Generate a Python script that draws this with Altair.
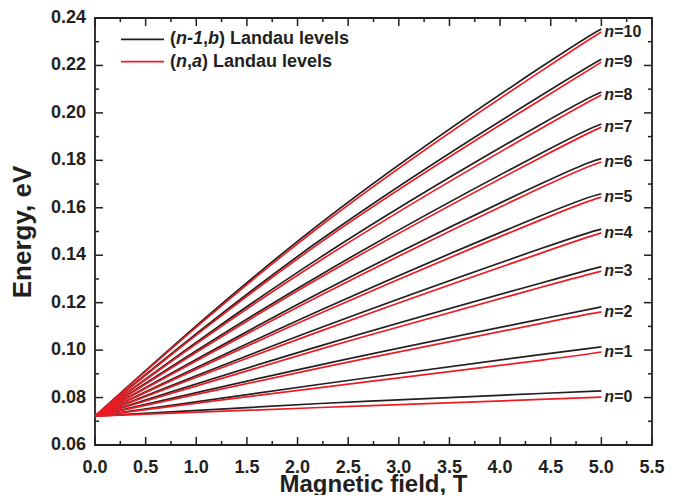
import altair as alt
import pandas as pd

# ---------------- data ----------------
field_T = [0.0, 2.225, 4.397, 5.0]          # magnetic field sample points (T)
levels = list(range(11))                    # n = 0 .. 10

black_E = {  # (n-1, b) Landau levels, energy in eV at field_T
    0: [0.0722, 0.0775, 0.0817, 0.0828],
    1: [0.0722, 0.0856, 0.0981, 0.1014],
    2: [0.0722, 0.0938, 0.1130, 0.1182],
    3: [0.0722, 0.1018, 0.1282, 0.1352],
    4: [0.0722, 0.1094, 0.1427, 0.1510],
    5: [0.0722, 0.1168, 0.1565, 0.1659],
    6: [0.0722, 0.1243, 0.1700, 0.1807],
    7: [0.0722, 0.1317, 0.1828, 0.1953],
    8: [0.0722, 0.1391, 0.1950, 0.2088],
    9: [0.0722, 0.1464, 0.2071, 0.2226],
    10: [0.0722, 0.1534, 0.2191, 0.2354],
}
red_E = {  # (n, a) Landau levels
    0: [0.0722, 0.0758, 0.0792, 0.0802],
    1: [0.0722, 0.0842, 0.0957, 0.0992],
    2: [0.0722, 0.0925, 0.1112, 0.1161],
    3: [0.0722, 0.1004, 0.1264, 0.1333],
    4: [0.0722, 0.1080, 0.1408, 0.1494],
    5: [0.0722, 0.1155, 0.1548, 0.1645],
    6: [0.0722, 0.1230, 0.1683, 0.1793],
    7: [0.0722, 0.1306, 0.1811, 0.1940],
    8: [0.0722, 0.1378, 0.1932, 0.2075],
    9: [0.0722, 0.1453, 0.2054, 0.2214],
    10: [0.0722, 0.1523, 0.2174, 0.2341],
}

x_major = [0.0, 0.5, 1.0, 1.5, 2.0, 2.5, 3.0, 3.5, 4.0, 4.5, 5.0, 5.5]
x_minor = [0.25, 0.75, 1.25, 1.75, 2.25, 2.75, 3.25, 3.75, 4.25, 4.75, 5.25]
y_major = [0.06, 0.08, 0.10, 0.12, 0.14, 0.16, 0.18, 0.20, 0.22, 0.24]
y_minor = [0.07, 0.09, 0.11, 0.13, 0.15, 0.17, 0.19, 0.21, 0.23]
x_title = "Magnetic field, T"
y_title = "Energy, eV"

# ---------------- tables ----------------
def long_table(d):
    rows = []
    for n in levels:
        for b, e in zip(field_T, d[n]):
            rows.append({"B": b, "E": e, "n": n})
    return pd.DataFrame(rows)

black_df = long_table(black_E)
red_df = long_table(red_E)
lab_df = pd.DataFrame({
    "B": [field_T[-1]] * len(levels),
    "E": [red_E[n][-1] for n in levels],
    "rest": ["=" + str(n) for n in levels],
})
xlab_df = pd.DataFrame({"B": x_major, "lab": [f"{v:.1f}" for v in x_major]})
ylab_df = pd.DataFrame({"E": y_major, "lab": [f"{v:.2f}" for v in y_major]})

# ---------------- styling ----------------
W, H = 557, 427
INK = "#231f20"
RED = "#ed1c24"
FONT = "Liberation Sans"
MAJ, MIN = 8, 4

xscale = alt.Scale(domain=[0, 5.5], nice=False, zero=False)
yscale = alt.Scale(domain=[0.06, 0.24], nice=False, zero=False)
X = alt.X("B:Q", scale=xscale, axis=None)
Y = alt.Y("E:Q", scale=yscale, axis=None)

# an axis that draws nothing (only on the first layer)
blank = alt.Axis(labels=False, ticks=False, domain=False, grid=False, title=None)
X0 = alt.X("B:Q", scale=xscale, axis=blank)
Y0 = alt.Y("E:Q", scale=yscale, axis=blank)

# ---------------- inward ticks on all four sides ----------------
def xticks(values, y0, y1):
    return alt.Chart(pd.DataFrame({"B": values})).mark_rule(
        color=INK, strokeWidth=1.5).encode(
        x=X, y=alt.value(y0), y2=alt.value(y1))


def yticks(values, x0, x1):
    return alt.Chart(pd.DataFrame({"E": values})).mark_rule(
        color=INK, strokeWidth=1.5).encode(
        y=Y, x=alt.value(x0), x2=alt.value(x1))


tick_layers = [
    xticks(x_major, H - MAJ, H), xticks(x_minor, H - MIN, H),
    xticks(x_major, 0, MAJ), xticks(x_minor, 0, MIN),
    yticks(y_major, 0, MAJ), yticks(y_minor, 0, MIN),
    yticks(y_major, W - MAJ, W), yticks(y_minor, W - MIN, W),
]

# ---------------- tick labels and axis titles ----------------
xlabels = alt.Chart(xlab_df).mark_text(
    font=FONT, fontSize=18, fontWeight="bold", color=INK,
    align="center", baseline="top").encode(
    x=X, y=alt.value(H + 14), text="lab:N")
ylabels = alt.Chart(ylab_df).mark_text(
    font=FONT, fontSize=18, fontWeight="bold", color=INK,
    align="right", baseline="middle").encode(
    y=Y, x=alt.value(-9), text="lab:N")

one = pd.DataFrame({"k": [0]})
xtitle = alt.Chart(one).mark_text(
    font=FONT, fontSize=24, fontWeight="bold", color=INK,
    align="center", baseline="alphabetic").encode(
    x=alt.value(W / 2), y=alt.value(H + 47), text=alt.value(x_title))
ytitle = alt.Chart(one).mark_text(
    font=FONT, fontSize=26, fontWeight="bold", color=INK, angle=270,
    align="center", baseline="middle").encode(
    x=alt.value(-72), y=alt.value(214), text=alt.value(y_title))

# ---------------- curves ----------------
black_lines = alt.Chart(black_df).mark_line(color=INK, strokeWidth=1.7,
                                            interpolate="natural").encode(
    x=X0, y=Y0, detail="n:N")
red_lines = alt.Chart(red_df).mark_line(color=RED, strokeWidth=1.7,
                                        interpolate="natural").encode(
    x=X, y=Y, detail="n:N")

lab_n = alt.Chart(lab_df).mark_text(font=FONT, fontSize=16, fontWeight="bold",
                                    fontStyle="italic", align="left",
                                    baseline="middle", dx=3, color=INK).encode(
    x=X, y=Y, text=alt.value("n"))
lab_rest = alt.Chart(lab_df).mark_text(font=FONT, fontSize=16, fontWeight="bold",
                                       align="left", baseline="middle", dx=12.8,
                                       color=INK).encode(
    x=X, y=Y, text="rest:N")

# ---------------- legend (manual, mixed italic) ----------------
legend_layers = []
rows = [
    (21.3, INK, [("(", False, 0.0), ("n-1", True, 6.0), (",", False, 33.0),
                 ("b", True, 38.0), (") Landau levels", False, 49.0)]),
    (43.7, RED, [("(", False, 0.0), ("n", True, 6.0), (",", False, 17.0),
                 ("a", True, 22.0), (") Landau levels", False, 32.0)]),
]
for ypos, col, segs in rows:
    legend_layers.append(
        alt.Chart(one).mark_rule(color=col, strokeWidth=1.7).encode(
            x=alt.value(26), x2=alt.value(69), y=alt.value(ypos)))
    for txt, ital, off in segs:
        legend_layers.append(
            alt.Chart(one).mark_text(font=FONT, fontSize=18, fontWeight="bold",
                                     fontStyle="italic" if ital else "normal",
                                     align="left", baseline="middle",
                                     color=INK).encode(
                x=alt.value(75 + off), y=alt.value(ypos), text=alt.value(txt)))

chart = alt.layer(
    black_lines, red_lines, lab_n, lab_rest, *legend_layers, *tick_layers,
    xlabels, ylabels, xtitle, ytitle
).properties(
    width=W, height=H,
    autosize=alt.AutoSizeParams(type="none"),
    padding={"left": 87, "top": 10, "right": 21, "bottom": 50},
    background="white",
).configure_view(
    stroke=INK, strokeWidth=1.8
)

chart.save("out.html", embed_options={"renderer": "svg", "actions": False})
